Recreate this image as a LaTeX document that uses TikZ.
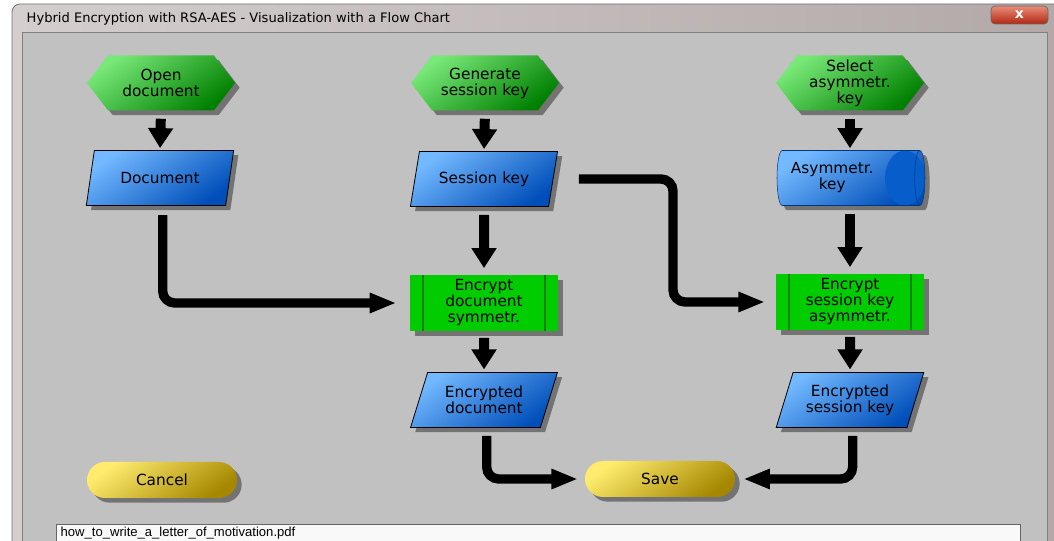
\documentclass[tikz,border=0pt]{standalone}
\usepackage{fontspec}
\setmainfont{DejaVu Sans}
\newfontfamily\pathfont{Liberation Sans}
\usetikzlibrary{shapes.geometric,shapes.symbols,shadows,arrows.meta}

\definecolor{winbg}{RGB}{193,193,193}
\definecolor{framelight}{RGB}{212,206,206}
\definecolor{framemid}{RGB}{138,118,114}
\definecolor{frameright}{RGB}{178,168,168}
\definecolor{hexlight}{RGB}{120,232,120}
\definecolor{hexmid}{RGB}{0,200,0}
\definecolor{hexdark}{RGB}{0,128,0}
\definecolor{bluelight}{RGB}{115,185,255}
\definecolor{bluemid}{RGB}{30,140,255}
\definecolor{bluedark}{RGB}{0,78,185}
\definecolor{procgreen}{RGB}{0,204,0}
\definecolor{procline}{RGB}{0,130,0}
\definecolor{yellowlight}{RGB}{255,236,110}
\definecolor{yellowmid}{RGB}{248,214,20}
\definecolor{yellowdark}{RGB}{165,135,0}

\tikzset{
  nodeshadow/.style={drop shadow={shadow xshift=3.5pt,shadow yshift=-3.5pt,opacity=0.4,fill=black}},
  starthex/.style={signal, signal to=west and east, signal pointer angle=105,
    minimum width=111pt, minimum height=41.25pt, inner sep=0pt,
    top color=hexlight, middle color=hexmid, bottom color=hexdark, shading angle=35, nodeshadow},
  iobox/.style={trapezium, trapezium left angle=67, trapezium right angle=113, trapezium stretches=true,
    minimum width=111pt, minimum height=41.25pt, inner sep=0pt, draw=black, line width=0.6pt,
    top color=bluelight, middle color=bluemid, bottom color=bluedark, shading angle=35, nodeshadow},
  storebox/.style={cylinder, shape aspect=0.34, minimum width=41.25pt, minimum height=111pt, inner sep=0pt,
    draw=bluedark!70!black, line width=0.4pt,
    top color=bluelight, middle color=bluemid, bottom color=bluedark, shading angle=35, nodeshadow,
    path picture={\fill[bluedark!75!bluemid] ([xshift=-15pt]path picture bounding box.east) ellipse [x radius=15pt, y radius=20.6pt];}},
  procbox/.style={rectangle, minimum width=111pt, minimum height=42pt, inner sep=0pt, fill=procgreen, nodeshadow,
    path picture={
      \draw[procline, line width=1pt] ([xshift=9.75pt]path picture bounding box.north west) -- ([xshift=9.75pt]path picture bounding box.south west);
      \draw[procline, line width=1pt] ([xshift=-9.75pt]path picture bounding box.north east) -- ([xshift=-9.75pt]path picture bounding box.south east);}},
  pill/.style={rectangle, rounded corners=13.5pt, minimum width=112.5pt, minimum height=27pt, inner sep=0pt,
    top color=yellowlight, middle color=yellowmid, bottom color=yellowdark, shading angle=35, nodeshadow},
  downarrow/.style={line width=7.5pt, -{Triangle[width=18pt,length=15pt]}},
  elbowarrow/.style={line width=7pt, rounded corners=9pt, -{Triangle[width=14pt,length=20pt]}}
}

\begin{document}
\begin{tikzpicture}[x=0.75pt,y=0.75pt,yscale=-1,xscale=1,
  every node/.style={font=\fontsize{11.5}{12}\selectfont, align=center, text=black}]
\useasboundingbox (0,0) rectangle (1054,541);

%Window frame
\fill[white] (0,0) rectangle (1054,541);
\shade[left color=framelight, middle color=framemid, right color=frameright, rounded corners=6pt] (12,4) rectangle (1070,560);
\draw[black!55, line width=0.6pt, rounded corners=6pt] (12,560) -- (12,4) -- (1070,4);
%Client area
\fill[winbg] (22,32) rectangle (1047,560);
\draw[black!50, line width=0.6pt] (22,560) -- (22,32) -- (1047,32) -- (1047,560);

%Close button
\shade[top color={rgb,255:red,232;green,140;blue,120}, bottom color={rgb,255:red,178;green,38;blue,18}, rounded corners=3pt] (991,6) rectangle (1048,24);
\draw[black!60, rounded corners=3pt, line width=0.5pt] (991,6) rectangle (1048,24);
% Text Node
\node[font=\bfseries\fontsize{10.5}{10}\selectfont, text=white] (closebtn) at (1019.5,15) {x};

% Text Node
\node[anchor=west, font=\fontsize{9.8}{10}\selectfont] (title) at (22,19) {Hybrid Encryption with RSA-AES - Visualization with a Flow Chart};

%Path field
\fill[white!95!gray] (56,524) rectangle (1020,560);
\draw[black!60, line width=0.5pt] (56,560) -- (56,524) -- (1020,524) -- (1020,560);
% Text Node
\node[anchor=west, font=\pathfont\fontsize{9.8}{10}\selectfont] (pathtxt) at (56,533) {how\_to\_write\_a\_letter\_of\_motivation.pdf};

%Flow chart nodes
\node[starthex] (opendoc) at (161,83) {Open\\document};
\node[starthex] (genkey) at (485,83) {Generate\\session key};
\node[starthex] (selkey) at (850,83) {Select\\asymmetr.\\key};

\node[iobox] (doc) at (160,178) {Document};
\node[iobox] (seskey) at (484,179) {Session key};
\node[storebox, anchor=shape center] (asymkey) at (851,178) {Asymmetr.\hspace*{24pt}\\key\hspace*{24pt}};

\node[procbox] (encsym) at (484,303) {Encrypt\\document\\symmetr.};
\node[procbox] (encasym) at (850,302) {Encrypt\\session key\\asymmetr.};

\node[iobox] (encdoc) at (484,400) {Encrypted\\document};
\node[iobox] (encses) at (850,400) {Encrypted\\session key};

\node[pill] (cancel) at (162,480) {Cancel};
\node[pill] (save) at (660,479) {Save};

%Straight arrows
\draw[downarrow, shorten <=6pt, shorten >=1.5pt] (opendoc.south) -- (doc.north);
\draw[downarrow, shorten <=6pt, shorten >=1.5pt] (genkey.south) -- (seskey.north);
\draw[downarrow, shorten <=6pt, shorten >=1.5pt] (selkey.south) -- (selkey.south |- asymkey.north);
\draw[downarrow, shorten <=6pt, shorten >=5pt] (seskey.south) -- (encsym.north);
\draw[downarrow, shorten <=6pt, shorten >=5pt] (encasym.north |- asymkey.south) -- (encasym.north);
\draw[downarrow, shorten <=5pt, shorten >=2pt] (encsym.south) -- (encdoc.north);
\draw[downarrow, shorten <=5pt, shorten >=2pt] (encasym.south) -- (encses.north);

%Elbow arrows
\coordinate (jog) at (673,240);
\draw[elbowarrow, shorten <=7pt, shorten >=10pt] ([xshift=2pt]doc.south) |- (encsym.west);
\draw[elbowarrow, shorten <=19pt, shorten >=8pt] (seskey.east) -| (jog) |- (encasym.west);
\draw[elbowarrow, shorten <=6pt, shorten >=5pt] ([xshift=2pt]encdoc.south) |- (save.west);
\draw[elbowarrow, shorten <=6pt, shorten >=6pt] ([xshift=2pt]encses.south) |- (save.east);

\end{tikzpicture}
\end{document}
